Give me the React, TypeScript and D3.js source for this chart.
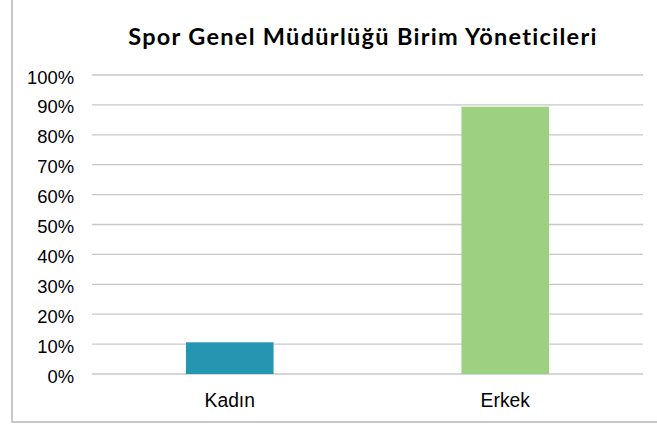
import React from "react";
import * as d3 from "d3";

const categories = ["Kadın", "Erkek"];
const values = [0.106, 0.894];
const colors = ["#2596b1", "#9dd080"];
const yTicks = [0, 0.1, 0.2, 0.3, 0.4, 0.5, 0.6, 0.7, 0.8, 0.9, 1.0];
const title = "Spor Genel Müdürlüğü Birim Yöneticileri";

export default function App() {
  const W = 657, H = 425;
  const left = 92, right = 643, top = 75, bottom = 374;
  const x = d3.scaleBand<string>().domain(categories).range([left, right]).paddingInner(0.682).paddingOuter(0.341);
  const y = d3.scaleLinear().domain([0, 1]).range([bottom, top]);
  const fmt = d3.format(".0%");
  return (
    <svg width={W} height={H} style={{ position: "absolute", left: 0, top: 0 }}>
      <rect x={0} y={0} width={W} height={H} fill="#fff" />
      <line x1={12} x2={12} y1={0} y2={423} stroke="#c8c8c8" strokeWidth={2} />
      <line x1={11} x2={W} y1={422} y2={422} stroke="#c8c8c8" strokeWidth={2} />
      <text x={363} y={45} textAnchor="middle" fontFamily="Lato" fontWeight="bold" fontSize={23.5} letterSpacing={1.3} fill="#000">{title}</text>
      {yTicks.map((t) => (
        <g key={t}>
          <line x1={left} x2={right} y1={y(t)} y2={y(t)} stroke="#c8c8c8" strokeWidth={1.3} />
          <text x={74} y={y(t) + 8.5} textAnchor="end" fontFamily="Liberation Sans, Arial" fontSize={18.4} fill="#000">{fmt(t)}</text>
        </g>
      ))}
      {categories.map((c, i) => (
        <rect key={c} x={x(c)} y={y(values[i])} width={x.bandwidth()} height={y(0) - y(values[i])} fill={colors[i]} />
      ))}
      {categories.map((c) => (
        <text key={c} x={(x(c) as number) + x.bandwidth() / 2} y={406.5} textAnchor="middle" fontFamily="Liberation Sans, Arial" fontSize={19.3} fill="#000">{c}</text>
      ))}
    </svg>
  );
}
